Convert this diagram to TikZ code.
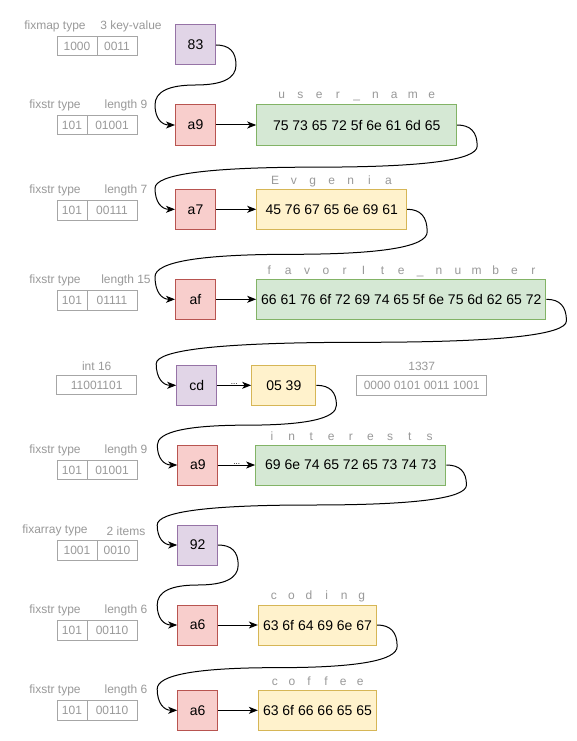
\documentclass[tikz,border=0pt]{standalone}
\usepackage{fontspec}
\setmainfont{Liberation Sans}
\usetikzlibrary{calc,arrows.meta}
\definecolor{purF}{HTML}{E1D5E7}\definecolor{purD}{HTML}{9673A6}
\definecolor{redF}{HTML}{F8CECC}\definecolor{redD}{HTML}{B85450}
\definecolor{grnF}{HTML}{D5E8D4}\definecolor{grnD}{HTML}{82B366}
\definecolor{ylwF}{HTML}{FFF2CC}\definecolor{ylwD}{HTML}{D6B656}
\definecolor{lbl}{HTML}{999999}\definecolor{lblD}{HTML}{A6A6A6}
\newlength\lpitch
\newcommand\lett[1]{\makebox[\lpitch]{#1}}
\newcommand\spelled[2]{{\setlength\lpitch{#1}#2}}
\tikzset{
  hexbox/.style={draw, line width=1pt, inner sep=0pt, minimum height=40pt,
    font=\fontsize{14}{16}\selectfont, text=black},
  sqbox/.style={hexbox, minimum width=40pt},
  purbox/.style={fill=purF, draw=purD},
  redbox/.style={fill=redF, draw=redD},
  grnbox/.style={fill=grnF, draw=grnD},
  ylwbox/.style={fill=ylwF, draw=ylwD},
  gtxt/.style={text=lbl, font=\fontsize{12}{14}\selectfont, inner sep=0pt},
  gbox/.style={gtxt, draw=lblD, line width=1pt, minimum height=19.5pt},
  conn/.style={line width=1pt, -{Stealth[length=9pt,width=7pt,inset=2.5pt]}},
  dotlbl/.style={font=\fontsize{8}{8}\selectfont, inner sep=0pt, anchor=base, yshift=0.5pt, text=black},
  curl/.style={to path={
    let \p1=(\tikztostart), \p2=(\tikztotarget),
        \p3=($(\p1)!0.5!(\p2)$),
        \p4=(\x1+20pt,\y1), \p5=(\x1+20pt,\y3), \p6=(\x2-20pt,\y3), \p7=(\x2-20pt,\y2),
        \p8=($(\p4)!0.5!(\p5)$), \p9=($(\p5)!0.5!(\p6)$), \p{a}=($(\p6)!0.5!(\p7)$)
    in .. controls ($(\p1)!2/3!(\p4)$) and ($(\p8)!2/3!(\p4)$) .. (\p8)
       .. controls ($(\p8)!2/3!(\p5)$) and ($(\p9)!2/3!(\p5)$) .. (\p9)
       .. controls ($(\p9)!2/3!(\p6)$) and ($(\p{a})!2/3!(\p6)$) .. (\p{a})
       .. controls ($(\p{a})!2/3!(\p7)$) and ($(\p2)!2/3!(\p7)$) .. (\p2)
  }}
}
\begin{document}
\begin{tikzpicture}[x=1pt,y=-1pt]
\useasboundingbox[fill=white] (0,0) rectangle (577,741);

% ---------- left gray annotations ----------
% row 1
\node[gtxt] (t1a) at (55,26.5) {fixmap type};
\node[gtxt] (t1b) at (131,26.5) {3 key-value};
\node[gbox, minimum width=40pt] (b1a) at (77,46) {1000};
\node[gbox, minimum width=40pt] (b1b) at (117,46) {0011};
% row 2
\node[gtxt] (t2a) at (55,105.5) {fixstr type};
\node[gtxt] (t2b) at (126,105.5) {length 9};
\node[gbox, minimum width=30pt] (b2a) at (72,125) {101};
\node[gbox, minimum width=50pt] (b2b) at (112,125) {01001};
% row 3
\node[gtxt] (t3a) at (55,190.8) {fixstr type};
\node[gtxt] (t3b) at (126,190.8) {length 7};
\node[gbox, minimum width=30pt] (b3a) at (72,210.3) {101};
\node[gbox, minimum width=50pt] (b3b) at (112,210.3) {00111};
% row 4
\node[gtxt] (t4a) at (55,280.8) {fixstr type};
\node[gtxt] (t4b) at (126,280.8) {length 15};
\node[gbox, minimum width=30pt] (b4a) at (72,300.3) {101};
\node[gbox, minimum width=50pt] (b4b) at (112,300.3) {01111};
% row 5
\node[gtxt] (t5a) at (96.7,366.5) {int 16};
\node[gbox, minimum width=80pt] (b5a) at (96.7,385) {11001101};
\node[gtxt] (t5b) at (421.7,366.5) {1337};
\node[gbox, minimum width=130pt] (b5b) at (421.7,385.3) {0000 0101 0011 1001};
% row 6
\node[gtxt] (t6a) at (55,450.5) {fixstr type};
\node[gtxt] (t6b) at (126,450.5) {length 9};
\node[gbox, minimum width=30pt] (b6a) at (72,470) {101};
\node[gbox, minimum width=50pt] (b6b) at (112,470) {01001};
% row 7
\node[gtxt] (t7a) at (55,530.8) {fixarray type};
\node[gtxt] (t7b) at (126,530.8) {2 items};
\node[gbox, minimum width=40pt] (b7a) at (77,550.3) {1001};
\node[gbox, minimum width=40pt] (b7b) at (117,550.3) {0010};
% row 8
\node[gtxt] (t8a) at (55,610.8) {fixstr type};
\node[gtxt] (t8b) at (126,610.8) {length 6};
\node[gbox, minimum width=30pt] (b8a) at (72,630.3) {101};
\node[gbox, minimum width=50pt] (b8b) at (112,630.3) {00110};
% row 9
\node[gtxt] (t9a) at (55,690.8) {fixstr type};
\node[gtxt] (t9b) at (126,690.8) {length 6};
\node[gbox, minimum width=30pt] (b9a) at (72,710.3) {101};
\node[gbox, minimum width=50pt] (b9b) at (112,710.3) {00110};

% ---------- spelled-out strings ----------
\node[gtxt] (s1) at (356.7,96.7) {\spelled{18.75pt}{\lett{u}\lett{s}\lett{e}\lett{r}\lett{\_}\lett{n}\lett{a}\lett{m}\lett{e}}};
\node[gtxt] (s2) at (331.7,181) {\spelled{18.9pt}{\lett{E}\lett{v}\lett{g}\lett{e}\lett{n}\lett{i}\lett{a}}};
\node[gtxt] (s3) at (401.3,271.7) {\spelled{18.86pt}{\lett{f}\lett{a}\lett{v}\lett{o}\lett{r}\lett{I}\lett{t}\lett{e}\lett{\_}\lett{n}\lett{u}\lett{m}\lett{b}\lett{e}\lett{r}}};
\node[gtxt] (s4) at (350.8,436.7) {\spelled{19.7pt}{\lett{i}\lett{n}\lett{t}\lett{e}\lett{r}\lett{e}\lett{s}\lett{t}\lett{s}}};
\node[gtxt] (s5) at (317.8,596) {\spelled{17.6pt}{\lett{c}\lett{o}\lett{d}\lett{i}\lett{n}\lett{g}}};
\node[gtxt] (s6) at (317.5,681) {\spelled{17.1pt}{\lett{c}\lett{o}\lett{f}\lett{f}\lett{e}\lett{e}}};

% ---------- byte boxes ----------
\node[sqbox, purbox] (n83) at (195.5,45) {83};
\node[sqbox, redbox] (a9a) at (195.5,125) {a9};
\node[hexbox, grnbox, minimum width=200pt] (usr) at (356.7,125) {75 73 65 72 5f 6e 61 6d 65};
\node[sqbox, redbox] (a7) at (195.5,209.3) {a7};
\node[hexbox, ylwbox, minimum width=150pt] (evg) at (331.7,209.3) {45 76 67 65 6e 69 61};
\node[sqbox, redbox] (af) at (195.5,299.3) {af};
\node[hexbox, grnbox, minimum width=289.3pt] (fav) at (401.3,299.3) {66 61 76 6f 72 69 74 65 5f 6e 75 6d 62 65 72};
\node[sqbox, purbox] (cd) at (196.7,385.3) {cd};
\node[hexbox, ylwbox, minimum width=64.3pt] (num) at (283.8,385.3) {05 39};
\node[sqbox, redbox] (a9b) at (197.8,465) {a9};
\node[hexbox, grnbox, minimum width=190.3pt] (itr) at (350.8,465) {69 6e 74 65 72 65 73 74 73};
\node[sqbox, purbox] (n92) at (197.7,545) {92};
\node[sqbox, redbox] (a6a) at (197.7,625) {a6};
\node[hexbox, ylwbox, minimum width=118.3pt] (cod) at (317.5,625) {63 6f 64 69 6e 67};
\node[sqbox, redbox] (a6b) at (197.7,710.3) {a6};
\node[hexbox, ylwbox, minimum width=118.3pt] (cof) at (317.5,710.3) {63 6f 66 66 65 65};

% ---------- straight connectors ----------
\draw[conn] (a9a.east) -- (usr.west);
\draw[conn] (a7.east) -- (evg.west);
\draw[conn] (af.east) -- (fav.west);
\draw[conn] (cd.east) -- node[dotlbl] (d1) {...} (num.west);
\draw[conn] (a9b.east) -- node[dotlbl] (d2) {...} (itr.west);
\draw[conn] (a6a.east) -- (cod.west);
\draw[conn] (a6b.east) -- (cof.west);

% ---------- curved connectors ----------
\draw[conn] (n83.east) to[curl] (a9a.west);
\draw[conn] (usr.east) to[curl] (a7.west);
\draw[conn] (evg.east) to[curl] (af.west);
\draw[conn] (fav.east) to[curl] (cd.west);
\draw[conn] (num.east) to[curl] (a9b.west);
\draw[conn] (itr.east) to[curl] (n92.west);
\draw[conn] (n92.east) to[curl] (a6a.west);
\draw[conn] (cod.east) to[curl] (a6b.west);
\end{tikzpicture}
\end{document}
